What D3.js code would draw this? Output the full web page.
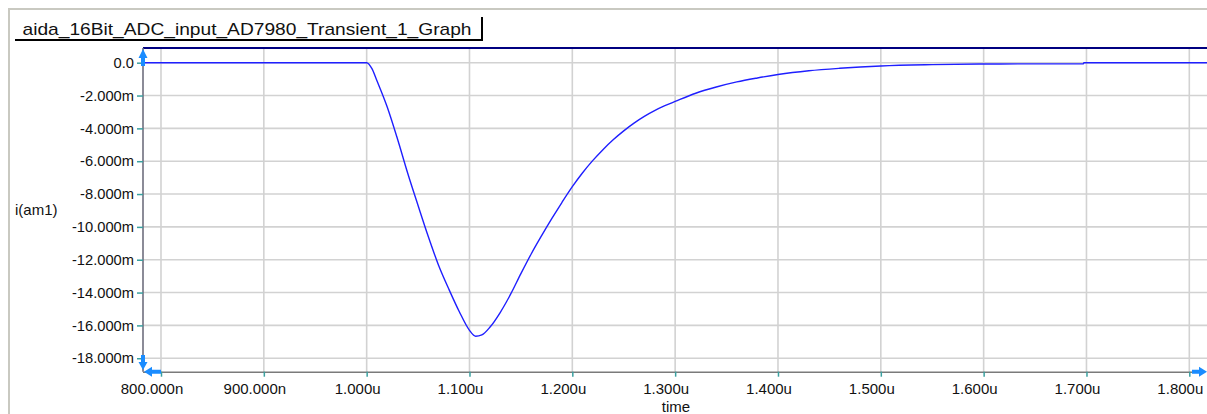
<!DOCTYPE html>
<html>
<head>
<meta charset="utf-8">
<script src="https://cdn.jsdelivr.net/npm/d3@7"></script>
<style>
  html, body { margin: 0; padding: 0; background: #ffffff; }
  svg { display: block; font-family: "Liberation Sans", Arial, sans-serif; }
</style>
</head>
<body>
<svg id="chart" width="1207" height="414"></svg>
<script>
// * chart data (time in ns, current in mA)
const chartTitle = "aida_16Bit_ADC_input_AD7980_Transient_1_Graph";
const yLabel = "i(am1)";
const xLabel = "time";
const xTicks = [800, 900, 1000, 1100, 1200, 1300, 1400, 1500, 1600, 1700, 1800];
const yTicks = [0, -2, -4, -6, -8, -10, -12, -14, -16, -18];
const timeNs = [
  782.5, 1000, 1005, 1010, 1020, 1030, 1040, 1050, 1060, 1070,
  1080, 1090, 1100, 1106, 1112, 1120, 1130, 1140, 1150, 1160,
  1170, 1180, 1190, 1200, 1210, 1220, 1230, 1240, 1250, 1260,
  1270, 1280, 1290, 1300, 1320, 1340, 1360, 1380, 1400, 1430,
  1460, 1500, 1550, 1600, 1697, 1697.5, 1817.5,
];
const currentMA = [
  0, 0, -0.35, -1.1, -2.7, -4.65, -6.75, -8.7, -10.6, -12.35,
  -13.8, -15.15, -16.3, -16.66, -16.58, -16.1, -15.2, -14.1, -12.85, -11.65,
  -10.55, -9.5, -8.5, -7.55, -6.7, -5.95, -5.28, -4.68, -4.15, -3.68,
  -3.27, -2.92, -2.62, -2.36, -1.86, -1.48, -1.17, -0.93, -0.72, -0.49,
  -0.34, -0.2, -0.12, -0.08, -0.06, 0, 0,
];

const svg = d3.select("#chart");
const plot = { left: 143, right: 1207.3, top: 48, bottom: 371.7 };

const xScale = d3.scaleLinear().domain([782.5, 1817.5]).range([plot.left, plot.right]);
const yScale = d3.scaleLinear().domain([-18.82, 0.895]).range([plot.bottom, plot.top]);

const fmtX = (t) => (t < 1000 ? `${t.toFixed(3)}n` : `${(t / 1000).toFixed(3)}u`);
const fmtY = (v) => (v === 0 ? "0.0" : `${v.toFixed(3)}m`);

// * outer frame
svg.append("path")
  .attr("d", "M9,414 V9 H1207")
  .style("fill", "none")
  .style("stroke", "#c9c9c1")
  .style("stroke-width", 2);

// * title tab
const titleLayer = svg.append("g");
titleLayer.append("text")
  .attr("x", 22.5)
  .attr("y", 35)
  .attr("textLength", 449)
  .attr("lengthAdjust", "spacingAndGlyphs")
  .style("font-size", "17px")
  .style("fill", "#111")
  .text(chartTitle);
titleLayer.append("path")
  .attr("d", "M15,40 H482 V17")
  .style("fill", "none")
  .style("stroke", "#000")
  .style("stroke-width", 2);

// * grid
const grid = svg.append("g");
grid.selectAll("line.vx")
  .data(xTicks)
  .enter()
  .append("line")
  .attr("x1", (d) => xScale(d))
  .attr("x2", (d) => xScale(d))
  .attr("y1", plot.top)
  .attr("y2", plot.bottom)
  .style("stroke", "#d2d2d2")
  .style("stroke-width", 1.6);
grid.selectAll("line.hy")
  .data(yTicks)
  .enter()
  .append("line")
  .attr("x1", plot.left)
  .attr("x2", plot.right)
  .attr("y1", (d) => yScale(d))
  .attr("y2", (d) => yScale(d))
  .style("stroke", "#d2d2d2")
  .style("stroke-width", 1.6);

// * top border line
svg.append("line")
  .attr("x1", plot.left)
  .attr("x2", 1207)
  .attr("y1", plot.top)
  .attr("y2", plot.top)
  .style("stroke", "#000080")
  .style("stroke-width", 2);

// * axes
const xAxis = d3.axisBottom(xScale).tickValues(xTicks).tickFormat(fmtX).tickSize(5).tickSizeOuter(0);
const yAxis = d3.axisLeft(yScale).tickValues(yTicks).tickFormat(fmtY).tickSize(6).tickSizeOuter(0);

const gx = svg.append("g").attr("transform", `translate(0,${plot.bottom})`).call(xAxis);
gx.select(".domain").attr("d", `M${plot.left},0.5H1195`).style("stroke", "#7a7a7a").style("stroke-width", 1.6);
gx.selectAll(".tick line").style("stroke", "#3aa0a0").style("stroke-width", 1.5);
gx.selectAll(".tick text")
  .attr("x", -9.5)
  .attr("y", 12)
  .style("font-size", "15px")
  .style("font-family", "Liberation Sans, Arial, sans-serif")
  .style("fill", "#111");

const gy = svg.append("g").attr("transform", `translate(${plot.left},0)`).call(yAxis);
gy.select(".domain").attr("d", `M0,${plot.top}V${plot.bottom}`).style("stroke", "#6e6e7e").style("stroke-width", 1.6);
gy.selectAll(".tick line").style("stroke", "#3aa0a0").style("stroke-width", 1.5);
gy.selectAll(".tick text")
  .attr("x", -9)
  .style("font-size", "14.7px")
  .style("font-family", "Liberation Sans, Arial, sans-serif")
  .style("fill", "#111");

// * axis labels
svg.append("text")
  .attr("x", 15)
  .attr("y", 215)
  .style("font-size", "15px")
  .style("fill", "#111")
  .text(yLabel);
svg.append("text")
  .attr("x", 676)
  .attr("y", 412)
  .attr("text-anchor", "middle")
  .style("font-size", "15px")
  .style("fill", "#111")
  .text(xLabel);

// * waveform
const series = timeNs.map((t, i) => ({ t, v: currentMA[i] }));
const line = d3.line()
  .x((d) => xScale(d.t))
  .y((d) => yScale(d.v))
  .curve(d3.curveMonotoneX);
const clip = svg.append("clipPath").attr("id", "plotClip");
clip.append("rect").attr("x", plot.left).attr("y", plot.top).attr("width", plot.right - plot.left).attr("height", plot.bottom - plot.top);
svg.append("path")
  .datum(series)
  .attr("d", line)
  .attr("clip-path", "url(#plotClip)")
  .style("fill", "none")
  .style("stroke", "#1f1fff")
  .style("stroke-width", 1.4);

// * axis marker arrows
const arrowColor = "#1a8cff";
const markers = svg.append("g").style("fill", arrowColor);
// up arrow on top of y axis
markers.append("path")
  .attr("d", `M${plot.left},49 L${plot.left + 4.5},58 L${plot.left + 2},58 L${plot.left + 2},66 L${plot.left - 2},66 L${plot.left - 2},58 L${plot.left - 4.5},58 Z`);
// down arrow at bottom of y axis
markers.append("path")
  .attr("d", `M${plot.left - 2},355 L${plot.left + 2},355 L${plot.left + 2},362 L${plot.left + 4.5},362 L${plot.left},370 L${plot.left - 4.5},362 L${plot.left - 2},362 Z`);
// left arrow at start of x axis
markers.append("path")
  .attr("d", `M${plot.left + 1},${plot.bottom} L${plot.left + 9},${plot.bottom - 5} L${plot.left + 9},${plot.bottom - 2} L${plot.left + 18},${plot.bottom - 2} L${plot.left + 18},${plot.bottom + 2} L${plot.left + 9},${plot.bottom + 2} L${plot.left + 9},${plot.bottom + 5} Z`);
// right arrow at end of x axis
markers.append("path")
  .attr("d", `M1207,${plot.bottom} L1199,${plot.bottom - 5} L1199,${plot.bottom - 2} L1192,${plot.bottom - 2} L1192,${plot.bottom + 2} L1199,${plot.bottom + 2} L1199,${plot.bottom + 5} Z`);
</script>
</body>
</html>
